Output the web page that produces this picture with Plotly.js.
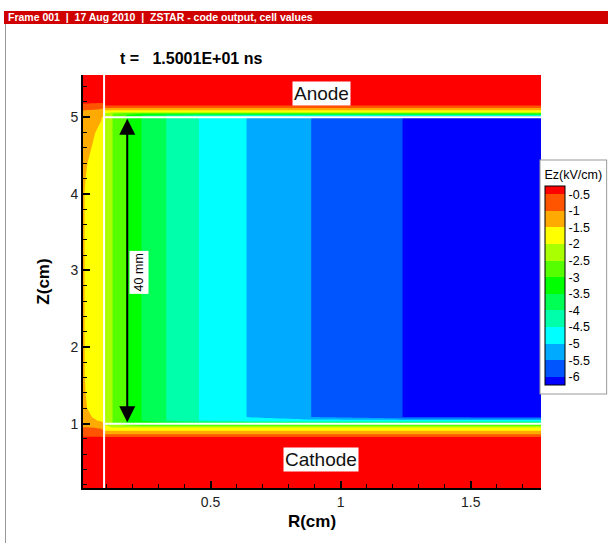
<!DOCTYPE html>
<html><head><meta charset="utf-8">
<script src="https://cdn.plot.ly/plotly-3.0.1.min.js"></script>
<style>html,body{margin:0;padding:0;background:#fff;} #chart{width:608px;height:543px;}</style>
</head><body><div id="chart"></div>
<script>
// ---- data ----
const rGrid = [0.0, 0.02, 0.05, 0.08, 0.09, 0.093, 0.124, 0.178, 0.236, 0.332, 0.458, 0.642, 0.892, 1.245, 1.5, 1.77];
const zGrid = [0.1, 0.7, 0.825, 0.86, 0.904, 0.948, 1.0, 1.04, 1.086, 1.2, 1.6, 2.4, 3.2, 4.0, 4.4, 4.8, 5.0, 5.022, 5.045, 5.065, 5.091, 5.122, 5.152, 5.25, 5.6];
const ezField = [
  [-0.05,-0.05,-0.05,-0.05,-0.05,-0.05,-0.05,-0.05,-0.05,-0.05,-0.05,-0.05,-0.05,-0.05,-0.05,-0.05],
  [-0.2,-0.2,-0.2,-0.2,-0.2,-0.2,-0.2,-0.2,-0.2,-0.2,-0.2,-0.2,-0.2,-0.2,-0.2,-0.2],
  [-0.48,-0.48,-0.48,-0.48,-0.48,-0.48,-0.48,-0.48,-0.48,-0.48,-0.48,-0.48,-0.48,-0.48,-0.48,-0.48],
  [-0.75,-0.75,-0.78,-0.8,-0.85,-0.98,-0.98,-0.98,-0.98,-0.98,-0.98,-0.98,-0.98,-0.98,-0.98,-0.98],
  [-0.88,-0.88,-0.9,-0.92,-0.95,-1.48,-1.48,-1.48,-1.48,-1.48,-1.48,-1.48,-1.48,-1.48,-1.48,-1.48],
  [-0.97,-0.98,-1.0,-1.05,-1.1,-1.98,-1.98,-1.98,-1.98,-1.98,-1.98,-1.98,-1.98,-1.98,-1.98,-1.98],
  [-1.2,-1.25,-1.3,-1.38,-1.45,-2.01,-2.51,-3.01,-3.3,-3.3,-3.3,-3.3,-3.3,-3.3,-3.3,-3.3],
  [-1.3,-1.38,-1.45,-1.55,-1.62,-2.01,-2.51,-3.01,-3.51,-4.01,-4.51,-4.8,-4.8,-4.8,-4.8,-4.8],
  [-1.32,-1.42,-1.52,-1.65,-1.72,-2.01,-2.51,-3.01,-3.51,-4.01,-4.51,-5.01,-5.51,-6.01,-6.05,-6.05],
  [-1.3,-1.47,-1.62,-1.78,-1.85,-2.01,-2.51,-3.01,-3.51,-4.01,-4.51,-5.01,-5.51,-6.01,-6.1,-6.1],
  [-1.3,-1.53,-1.73,-1.86,-1.93,-2.01,-2.51,-3.01,-3.51,-4.01,-4.51,-5.01,-5.51,-6.01,-6.2,-6.3],
  [-1.3,-1.55,-1.75,-1.88,-1.95,-2.01,-2.51,-3.01,-3.51,-4.01,-4.51,-5.01,-5.51,-6.01,-6.2,-6.3],
  [-1.3,-1.55,-1.75,-1.88,-1.95,-2.01,-2.51,-3.01,-3.51,-4.01,-4.51,-5.01,-5.51,-6.01,-6.2,-6.3],
  [-1.3,-1.55,-1.75,-1.88,-1.95,-2.01,-2.51,-3.01,-3.51,-4.01,-4.51,-5.01,-5.51,-6.01,-6.2,-6.3],
  [-1.28,-1.45,-1.65,-1.82,-1.9,-2.01,-2.51,-3.01,-3.51,-4.01,-4.51,-5.01,-5.51,-6.01,-6.2,-6.3],
  [-1.2,-1.35,-1.45,-1.65,-1.8,-2.01,-2.51,-3.01,-3.51,-4.01,-4.51,-5.01,-5.51,-6.01,-6.2,-6.3],
  [-1.1,-1.2,-1.3,-1.45,-1.6,-2.01,-2.51,-3.01,-3.51,-4.01,-4.51,-5.01,-5.51,-6.01,-6.2,-6.3],
  [-1.08,-1.12,-1.2,-1.3,-1.4,-2.01,-2.51,-3.01,-3.51,-4.01,-4.48,-4.48,-4.48,-4.48,-4.48,-4.48],
  [-1.05,-1.08,-1.12,-1.2,-1.3,-2.01,-2.51,-2.98,-2.98,-2.98,-2.98,-2.98,-2.98,-2.98,-2.98,-2.98],
  [-1.02,-1.04,-1.08,-1.15,-1.25,-1.98,-1.98,-1.98,-1.98,-1.98,-1.98,-1.98,-1.98,-1.98,-1.98,-1.98],
  [-0.99,-1.0,-1.02,-1.08,-1.2,-1.48,-1.48,-1.48,-1.48,-1.48,-1.48,-1.48,-1.48,-1.48,-1.48,-1.48],
  [-0.85,-0.87,-0.9,-0.93,-0.97,-0.98,-0.98,-0.98,-0.98,-0.98,-0.98,-0.98,-0.98,-0.98,-0.98,-0.98],
  [-0.6,-0.6,-0.62,-0.64,-0.66,-0.48,-0.48,-0.48,-0.48,-0.48,-0.48,-0.48,-0.48,-0.48,-0.48,-0.48],
  [-0.2,-0.2,-0.2,-0.2,-0.2,-0.2,-0.2,-0.2,-0.2,-0.2,-0.2,-0.2,-0.2,-0.2,-0.2,-0.2],
  [-0.05,-0.05,-0.05,-0.05,-0.05,-0.05,-0.05,-0.05,-0.05,-0.05,-0.05,-0.05,-0.05,-0.05,-0.05,-0.05]
];
const levelValues = [-6, -5.5, -5, -4.5, -4, -3.5, -3, -2.5, -2, -1.5, -1, -0.5];
const levelLabels = ['-6', '-5.5', '-5', '-4.5', '-4', '-3.5', '-3', '-2.5', '-2', '-1.5', '-1', '-0.5'];
const bandColors = ['#0000ff', '#0055ff', '#00aaff', '#00ffff', '#00ffaa', '#00ff55', '#00ff00',
                    '#55ff00', '#aaff00', '#ffff00', '#ffaa00', '#ff5500', '#ff0000'];
const innerEdgeR = [0.091];
const electrodeZ = [1.0, 5.0];
const gapArrowR = [0.18];
const gapArrowZ = [1.0, 4.98];
const xRange = [0.01, 1.77];
const yRange = [0.16, 5.55];

// ---- layout helpers ----
const W = 608, H = 543, ML = 83, MR = 67, MT = 75, MB = 55;
const PW = W - ML - MR, PH = H - MT - MB;
const px = v => (v - ML) / PW;
const py = v => (H - MB - v) / PH;
const FONT = 'Arial, "Liberation Sans", sans-serif';

const colorscale = bandColors.map((c, i) => [i / (bandColors.length - 1), c]);

const traces = [
  {
    type: 'contour', x: rGrid, y: zGrid, z: ezField,
    autocontour: false,
    contours: {start: levelValues[0], end: levelValues[levelValues.length - 1], size: 0.5, coloring: 'fill', showlines: false},
    line: {width: 0, smoothing: 0},
    colorscale: colorscale,
    hoverinfo: 'skip',
    colorbar: {
      title: {text: 'Ez(kV/cm)', side: 'top', font: {family: FONT, size: 12.5, color: '#000'}},
      tickmode: 'array', tickvals: levelValues, ticktext: levelLabels, ticks: '',
      tickfont: {family: FONT, size: 12.5, color: '#000'},
      thickness: 20, thicknessmode: 'pixels', len: 232, lenmode: 'pixels',
      x: 1, xanchor: 'left', xpad: 4, y: py(160), yanchor: 'top', ypad: 7,
      outlinewidth: 1, outlinecolor: '#000', bordercolor: '#999', borderwidth: 1, bgcolor: '#fff'
    }
  },
  {
    type: 'scatter', mode: 'lines', hoverinfo: 'skip', showlegend: false,
    x: [innerEdgeR[0], innerEdgeR[0]], y: yRange,
    line: {color: '#fff', width: 2}
  },
  {
    type: 'scatter', mode: 'lines', hoverinfo: 'skip', showlegend: false,
    x: [innerEdgeR[0], xRange[1], null, innerEdgeR[0], xRange[1]],
    y: [electrodeZ[0], electrodeZ[0], null, electrodeZ[1], electrodeZ[1]],
    line: {color: '#fff', width: 2}
  }
];

const layout = {
  width: W, height: H,
  margin: {l: ML, r: MR, t: MT, b: MB, pad: 0, autoexpand: false},
  paper_bgcolor: '#fff', plot_bgcolor: '#fff',
  showlegend: false,
  font: {family: FONT, color: '#000'},
  title: {
    text: '<b>t =\u00a0\u00a0 1.5001E+01 ns</b>', font: {family: FONT, size: 16, color: '#000'},
    xref: 'container', x: 120 / W, xanchor: 'left', yref: 'container', y: 1 - 58 / H, yanchor: 'middle'
  },
  xaxis: {
    range: xRange, tick0: 0, dtick: 0.5, ticks: 'inside', ticklen: 7, tickwidth: 2, tickcolor: '#000',
    minor: {tick0: 0, dtick: 0.1, ticks: 'inside', ticklen: 4, tickwidth: 1, tickcolor: '#000', showgrid: false},
    showline: true, linewidth: 2, linecolor: '#000', showgrid: false, zeroline: false,
    tickfont: {family: FONT, size: 14, color: '#222'},
    title: {text: '<b>R(cm)</b>', font: {family: FONT, size: 17, color: '#000'}, standoff: 6}
  },
  yaxis: {
    range: yRange, tick0: 0, dtick: 1, ticks: 'inside', ticklen: 7, tickwidth: 2, tickcolor: '#000',
    minor: {tick0: 0, dtick: 0.2, ticks: 'inside', ticklen: 4, tickwidth: 1, tickcolor: '#000', showgrid: false},
    showline: true, linewidth: 2, linecolor: '#000', showgrid: false, zeroline: false,
    tickfont: {family: FONT, size: 14, color: '#222'},
    title: {text: '<b>Z(cm)</b>', font: {family: FONT, size: 17, color: '#000'}, standoff: 16}
  },
  shapes: [
    {type: 'rect', xref: 'paper', yref: 'paper', x0: px(4), x1: px(608), y0: py(24), y1: py(11),
     fillcolor: '#d10000', line: {width: 0}, layer: 'above'},
    {type: 'line', xref: 'paper', yref: 'paper', x0: px(5.5), x1: px(5.5), y0: py(24), y1: py(543),
     line: {color: '#999', width: 1}}
  ],
  annotations: [
    {xref: 'paper', yref: 'paper', x: px(6), y: py(17.5), xanchor: 'left', yanchor: 'middle', showarrow: false,
     text: '<b>Frame 001\u00a0 |\u00a0 17 Aug 2010\u00a0 |\u00a0 ZSTAR - code output, cell values</b>',
     font: {family: FONT, size: 10.5, color: '#fff'}},
    {xref: 'x', yref: 'y', x: 0.926, y: 5.31, showarrow: false, text: 'Anode',
     font: {family: FONT, size: 19, color: '#111'}, bgcolor: '#fff', borderpad: 1},
    {xref: 'x', yref: 'y', x: 0.926, y: 0.535, showarrow: false, text: 'Cathode',
     font: {family: FONT, size: 19, color: '#111'}, bgcolor: '#fff', borderpad: 1},
    {xref: 'x', yref: 'y', x: gapArrowR[0], y: gapArrowZ[1], axref: 'x', ayref: 'y',
     ax: gapArrowR[0], ay: gapArrowZ[0], showarrow: true, text: '',
     arrowhead: 2, startarrowhead: 2, arrowside: 'end+start', arrowsize: 1.6, startarrowsize: 1.6, arrowwidth: 2, arrowcolor: '#000'},
    {xref: 'x', yref: 'y', x: 0.224, y: 2.97, showarrow: false, text: '40 mm', textangle: -90,
     font: {family: FONT, size: 12.5, color: '#000'}, bgcolor: '#fff', borderpad: 2}
  ]
};

Plotly.newPlot('chart', traces, layout, {displayModeBar: false, staticPlot: true});
</script>
</body></html>
